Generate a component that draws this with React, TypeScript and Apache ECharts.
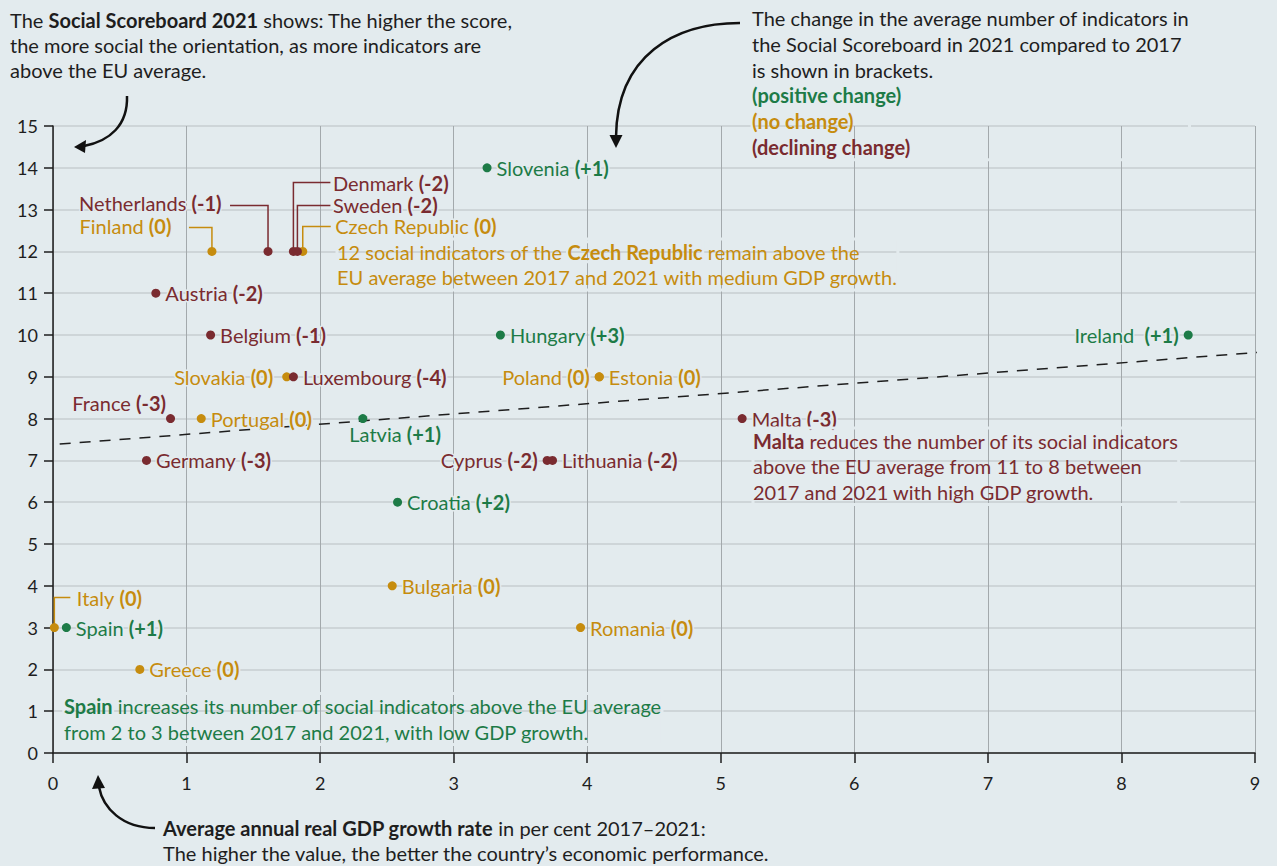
import React, { useEffect, useRef } from "react";
import * as echarts from "echarts";

// ---------- data ----------
const countries = [
  "Slovenia", "Finland", "Netherlands", "Denmark", "Sweden", "Czech Republic",
  "Austria", "Belgium", "Hungary", "Ireland", "Slovakia", "Luxembourg",
  "Poland", "Estonia", "France", "Portugal", "Latvia", "Malta",
  "Germany", "Cyprus", "Lithuania", "Croatia", "Bulgaria", "Italy",
  "Spain", "Romania", "Greece",
];
const gdpGrowth = [
  3.25, 1.19, 1.61, 1.80, 1.83, 1.87,
  0.77, 1.18, 3.35, 8.50, 1.75, 1.80,
  4.09, 4.09, 0.88, 1.11, 2.32, 5.16,
  0.70, 3.70, 3.74, 2.58, 2.54, 0.01,
  0.10, 3.95, 0.65,
];
const scores = [
  14, 12, 12, 12, 12, 12,
  11, 10, 10, 10, 9, 9,
  9, 9, 8, 8, 8, 8,
  7, 7, 7, 6, 4, 3,
  3, 3, 2,
];
const changes = [
  1, 0, -1, -2, -2, 0,
  -2, -1, 3, 1, 0, -4,
  0, 0, -3, 0, 1, -3,
  -3, -2, -2, 2, 0, 0,
  1, 0, 0,
];
const trendX = [0.05, 9.17];
const trendY = [7.39, 9.62];
const xTicks = [0, 1, 2, 3, 4, 5, 6, 7, 8, 9];
const yTicks = [0, 1, 2, 3, 4, 5, 6, 7, 8, 9, 10, 11, 12, 13, 14, 15];

// ---------- styles ----------
const BG = "#e3ebee";
const GREEN = "#1d7b47";
const GOLD = "#c68c0e";
const MAROON = "#7a2b30";
const INK = "#1e1e1e";
const FONT = "Lato";
const FS = 20;
const AXIS_FS = 18;

// label placement per country (pixel offsets, styling only)
const placement: Record<string, { pos: string; dx?: number; dy?: number; leader?: number[][] }> = {
  Finland: { pos: "left", dx: -31, dy: -25, leader: [[0, 0], [0, -24], [-23, -24]] },
  Netherlands: { pos: "left", dx: -37, dy: -48, leader: [[0, 0], [0, -46], [-38, -46]] },
  Denmark: { pos: "right", dx: 30, dy: -68, leader: [[0, 0], [0, -69], [37, -69]] },
  Sweden: { pos: "right", dx: 26, dy: -46, leader: [[0, 0], [0, -46], [33, -46]] },
  "Czech Republic": { pos: "right", dx: 23, dy: -25, leader: [[0, 0], [0, -25], [28, -25]] },
  Ireland: { pos: "left" },
  Slovakia: { pos: "left", dx: -4 },
  Poland: { pos: "left" },
  Cyprus: { pos: "left" },
  France: { pos: "left", dx: 5, dy: -16 },
  Latvia: { pos: "right", dx: -23, dy: 15 },
  Italy: { pos: "right", dx: 13, dy: -30, leader: [[0, 0], [0, -30], [16, -30]] },
};

function colorOf(c: number) {
  return c > 0 ? GREEN : c < 0 ? MAROON : GOLD;
}
function fmtChange(c: number) {
  return c > 0 ? `(+${c})` : `(${c})`;
}

export default function App() {
  const ref = useRef<HTMLDivElement>(null);

  useEffect(() => {
    document.body.style.margin = "0";
    document.body.style.background = BG;
    const chart = echarts.init(ref.current!, null, { renderer: "svg" });

    const groups = [
      { name: "positive", test: (c: number) => c > 0, color: GREEN },
      { name: "none", test: (c: number) => c === 0, color: GOLD },
      { name: "declining", test: (c: number) => c < 0, color: MAROON },
    ];

    const scatterSeries = groups.map((g) => ({
      type: "scatter",
      name: g.name,
      symbolSize: 9,
      itemStyle: { color: g.color, opacity: 1 },
      z: 3,
      label: {
        show: true,
        color: g.color,
        fontFamily: FONT,
        fontSize: FS,
        lineHeight: 19,
        textBorderColor: BG,
        textBorderWidth: 3,
        distance: 5,
        formatter: (p: any) =>
          `{n|${p.name}${p.name === "Ireland" ? " " : ""}} {b|${fmtChange(p.data.change)}}`,
        rich: {
          n: { fontFamily: FONT, fontSize: FS, lineHeight: 19, color: g.color, textBorderColor: BG, textBorderWidth: 3 },
          b: { fontFamily: FONT, fontSize: FS, lineHeight: 19, fontWeight: "bold", color: g.color, textBorderColor: BG, textBorderWidth: 3 },
        },
      },
      emphasis: { disabled: true },
      data: countries
        .map((name, i) => ({ name, i }))
        .filter(({ i }) => g.test(changes[i]))
        .map(({ name, i }) => {
          const pl = placement[name] || { pos: "right" };
          return {
            name,
            value: [gdpGrowth[i], scores[i]],
            change: changes[i],
            label: { position: pl.pos, offset: [pl.dx || 0, pl.dy || 0] },
          };
        }),
    }));

    const option: any = {
      animation: false,
      backgroundColor: BG,
      textStyle: { fontFamily: FONT },
      grid: { left: 53, right: 22, top: 126, bottom: 113, containLabel: false },
      xAxis: {
        type: "value",
        min: xTicks[0],
        max: xTicks[xTicks.length - 1],
        interval: 1,
        axisLine: { show: true, onZero: false, lineStyle: { color: INK, width: 1.5 } },
        axisTick: { show: true, length: 10, lineStyle: { color: INK, width: 1.5 } },
        axisLabel: { color: INK, fontSize: AXIS_FS, fontFamily: FONT, margin: 21 },
        splitLine: { show: true, lineStyle: { color: "#a3a9ac", width: 1 } },
      },
      yAxis: {
        type: "value",
        min: yTicks[0],
        max: yTicks[yTicks.length - 1],
        interval: 1,
        axisLine: { show: true, onZero: false, lineStyle: { color: INK, width: 1.5 } },
        axisTick: { show: true, length: 9, lineStyle: { color: INK, width: 1.5 } },
        axisLabel: { color: INK, fontSize: AXIS_FS, fontFamily: FONT, margin: 15 },
        splitLine: { show: true, lineStyle: { color: "#c7ced1", width: 1.5 } },
      },
      series: [
        {
          type: "line",
          name: "trend",
          data: trendX.map((x, i) => [x, trendY[i]]),
          symbol: "none",
          clip: false,
          silent: true,
          z: 2,
          lineStyle: { color: INK, width: 1.5, type: [11, 9] },
        },
        ...scatterSeries,
      ],
    };
    chart.setOption(option);

    // leader lines computed through the chart's own scales
    const leaders: any[] = [];
    countries.forEach((name, i) => {
      const pl = placement[name];
      if (!pl || !pl.leader) return;
      const p = chart.convertToPixel({ gridIndex: 0 }, [gdpGrowth[i], scores[i]]) as number[];
      leaders.push({
        type: "polyline",
        silent: true,
        z: 1,
        shape: { points: pl.leader.map(([dx, dy]) => [p[0] + dx, p[1] + dy]) },
        style: { stroke: colorOf(changes[i]), lineWidth: 1.5, fill: null },
      });
    });

    const txt = (x: number, y: number, text: string, fill: string, rich?: any, lh = 25.5) => ({
      type: "text",
      x,
      y,
      silent: true,
      z: 10,
      style: {
        text,
        fill,
        font: `${FS}px ${FONT}`,
        fontFamily: FONT,
        fontSize: FS,
        lineHeight: lh,
        textBorderColor: BG,
        textBorderWidth: 3,
        rich,
      },
    });
    const richB = (color: string, lh = 25.5) => ({
      b: { fontFamily: FONT, fontSize: FS, fontWeight: "bold", fill: color, color, lineHeight: lh, textBorderColor: BG, textBorderWidth: 3 },
      g: { fontFamily: FONT, fontSize: FS, fontWeight: "bold", fill: GREEN, color: GREEN, lineHeight: lh },
      o: { fontFamily: FONT, fontSize: FS, fontWeight: "bold", fill: GOLD, color: GOLD, lineHeight: lh },
      m: { fontFamily: FONT, fontSize: FS, fontWeight: "bold", fill: MAROON, color: MAROON, lineHeight: lh },
    });

    const arrowStyle = { stroke: "#111", lineWidth: 2.5, fill: null };
    const graphic: any[] = [
      ...leaders,
      txt(10, 7, "The {b|Social Scoreboard 2021} shows: The higher the score,\nthe more social the orientation, as more indicators are\nabove the EU average.", INK, richB(INK, 25), 25),
      txt(752, 5, "The change in the average number of indicators in\nthe Social Scoreboard in 2021 compared to 2017\nis shown in brackets.\n{g|(positive change)}\n{o|(no change)}\n{m|(declining change)}", INK, richB(INK, 25.8), 25.8),
      txt(337, 239, "12 social indicators of the {b|Czech Republic} remain above the\nEU average between 2017 and 2021 with medium GDP growth.", GOLD, richB(GOLD)),
      txt(753, 428, "{b|Malta} reduces the number of its social indicators\nabove the EU average from 11 to 8 between\n2017 and 2021 with high GDP growth.", MAROON, richB(MAROON)),
      txt(64, 693.5, "{b|Spain} increases its number of social indicators above the EU average\nfrom 2 to 3 between 2017 and 2021, with low GDP growth.", GREEN, richB(GREEN)),
      txt(163, 815, "{b|Average annual real GDP growth rate} in per cent 2017–2021:\nThe higher the value, the better the country’s economic performance.", INK, richB(INK, 25.5), 25.5),
      // arrows
      { type: "bezierCurve", silent: true, shape: { x1: 127, y1: 96, cpx1: 128, cpy1: 125, cpx2: 110, cpy2: 141, x2: 84, y2: 146 }, style: arrowStyle },
      { type: "polygon", silent: true, shape: { points: [[74, 147], [86, 140], [85, 153]] }, style: { fill: "#111" } },
      { type: "bezierCurve", silent: true, shape: { x1: 740, y1: 23, cpx1: 675, cpy1: 23, cpx2: 617, cpy2: 55, x2: 616, y2: 137 }, style: arrowStyle },
      { type: "polygon", silent: true, shape: { points: [[616, 148], [609.5, 135], [622.5, 135]] }, style: { fill: "#111" } },
      { type: "bezierCurve", silent: true, shape: { x1: 155, y1: 828, cpx1: 122, cpy1: 828, cpx2: 103, cpy2: 808, x2: 99, y2: 787 }, style: arrowStyle },
      { type: "polygon", silent: true, shape: { points: [[98, 775], [92, 789], [105, 788]] }, style: { fill: "#111" } },
    ];
    chart.setOption({ graphic });

    return () => chart.dispose();
  }, []);

  return (
    <div
      ref={ref}
      style={{ position: "fixed", left: 0, top: 0, width: 1277, height: 866, background: BG }}
    />
  );
}
